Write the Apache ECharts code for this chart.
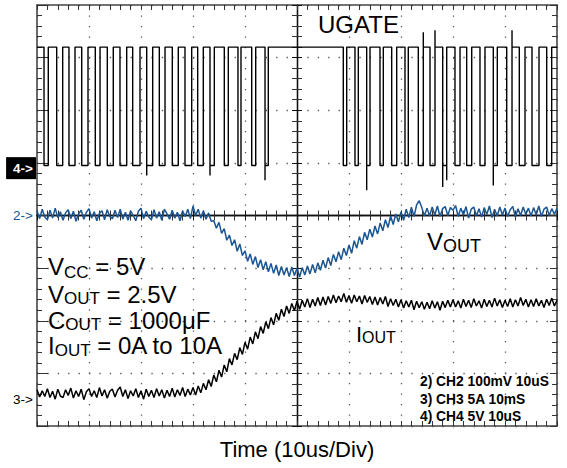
<!DOCTYPE html>
<html><head><meta charset="utf-8">
<script src="https://cdn.jsdelivr.net/npm/echarts@6/dist/echarts.min.js"></script>
<style>
html,body{margin:0;padding:0;background:#fff}
#wrap{position:relative;width:567px;height:468px}
#bg,#fg{position:absolute;left:0;top:0;width:567px;height:468px}
</style>
</head><body><div id="wrap"><div id="bg"></div><div id="fg"></div></div>
<script>
// ---- data (time in us, 10 us/div; amplitude in screen divisions) ----
const timeRangeUs = [-50, 50];
const ampRangeDiv = [-4, 4];
const sampleStartUs = -50;
const sampleStepUs = 0.5;

// CH2 VOUT trace (blue)
const voutDiv = [
 0.09,-0.06,0.12,-0.03,-0.08,0.1,-0.05,0.14,-0.04,0.07,
 -0.09,0.05,0.11,-0.06,0.08,-0.11,0.03,0.1,-0.07,0.06,
 0.13,-0.05,0.07,-0.1,0.04,0.09,-0.08,0.11,-0.02,-0.06,
 0.1,-0.04,0.12,-0.07,0.06,-0.09,0.09,0.0,-0.1,0.08,
 0.14,-0.06,0.08,-0.03,-0.08,0.11,-0.05,0.07,-0.09,0.12,
 0.03,-0.07,0.1,-0.05,0.06,-0.1,0.09,-0.02,0.12,-0.06,
 0.18,0.0,0.12,-0.05,0.09,-0.07,0.05,-0.11,-0.1,-0.24,
 -0.13,-0.34,-0.25,-0.47,-0.37,-0.57,-0.46,-0.68,-0.54,-0.76,
 -0.67,-0.87,-0.73,-0.93,-0.78,-0.99,-0.84,-1.03,-0.88,-1.07,
 -0.91,-1.1,-0.94,-1.14,-0.97,-1.13,-0.99,-1.16,-0.98,-1.14,
 -1.0,-1.17,-0.99,-1.13,-0.96,-1.11,-0.93,-1.09,-0.9,-1.04,
 -0.85,-1.0,-0.8,-0.95,-0.74,-0.88,-0.69,-0.84,-0.62,-0.76,
 -0.56,-0.72,-0.48,-0.62,-0.4,-0.55,-0.32,-0.46,-0.26,-0.41,
 -0.2,-0.35,-0.14,-0.29,-0.08,-0.23,-0.01,-0.17,0.03,-0.12,
 0.07,-0.09,0.12,-0.04,0.16,-0.02,0.2,0.28,0.15,-0.01,
 0.14,-0.01,0.16,0.01,0.18,-0.02,0.13,0.17,0.0,0.15,
 0.1,0.19,-0.02,0.14,0.01,0.17,-0.05,0.12,0.16,-0.01,
 0.13,-0.03,0.15,0.02,0.18,-0.04,0.12,-0.01,0.16,0.01,
 0.14,-0.02,0.11,0.17,-0.03,0.13,0.0,0.16,0.02,0.14,
 -0.01,0.15,0.01,0.18,-0.02,0.12,0.16,0.0,0.13,0.02,0.14
];

// CH3 IOUT trace (black)
const ioutDiv = [
 -3.31,-3.45,-3.33,-3.44,-3.29,-3.46,-3.34,-3.49,-3.3,-3.43,
 -3.46,-3.31,-3.42,-3.28,-3.47,-3.33,-3.44,-3.3,-3.5,-3.35,
 -3.29,-3.44,-3.33,-3.46,-3.27,-3.43,-3.31,-3.47,-3.34,-3.3,
 -3.45,-3.32,-3.26,-3.44,-3.31,-3.48,-3.33,-3.43,-3.29,-3.46,
 -3.33,-3.49,-3.3,-3.44,-3.32,-3.46,-3.29,-3.43,-3.31,-3.47,
 -3.32,-3.44,-3.28,-3.45,-3.31,-3.42,-3.27,-3.44,-3.3,-3.41,
 -3.27,-3.41,-3.24,-3.37,-3.19,-3.31,-3.12,-3.25,-3.03,-3.16,
 -2.94,-3.07,-2.84,-2.97,-2.72,-2.84,-2.62,-2.74,-2.51,-2.64,
 -2.41,-2.54,-2.31,-2.44,-2.21,-2.34,-2.11,-2.24,-2.02,-2.15,
 -1.94,-2.08,-1.86,-1.99,-1.78,-1.92,-1.72,-1.86,-1.67,-1.81,
 -1.63,-1.78,-1.61,-1.74,-1.58,-1.75,-1.59,-1.72,-1.56,-1.71,
 -1.55,-1.7,-1.54,-1.67,-1.51,-1.66,-1.53,-1.64,-1.48,-1.65,
 -1.52,-1.67,-1.51,-1.64,-1.53,-1.68,-1.52,-1.65,-1.54,-1.69,
 -1.55,-1.7,-1.56,-1.68,-1.54,-1.73,-1.58,-1.71,-1.59,-1.74,
 -1.6,-1.76,-1.62,-1.74,-1.61,-1.79,-1.63,-1.75,-1.64,-1.78,
 -1.65,-1.77,-1.62,-1.76,-1.64,-1.8,-1.63,-1.75,-1.61,-1.74,
 -1.6,-1.74,-1.62,-1.76,-1.59,-1.73,-1.61,-1.75,-1.58,-1.72,
 -1.62,-1.76,-1.59,-1.73,-1.61,-1.74,-1.57,-1.72,-1.6,-1.75,
 -1.61,-1.73,-1.58,-1.74,-1.6,-1.72,-1.56,-1.71,-1.59,-1.74,
 -1.6,-1.73,-1.58,-1.72,-1.61,-1.75,-1.59,-1.71,-1.57,-1.72,-1.61
];

// CH4 UGATE: logic levels and the [fall, rise] times of each low interval
const ugateHighDiv = 3.2;
const ugateLowDiv = 0.95;
const ugateLowIntervalsUs = [
 [-48.65,-47.83],[-46.21,-45.06],[-43.85,-42.69],[-41.4,-40.19],[-38.79,-37.88],
 [-36.48,-35.33],[-34.04,-32.75],[-31.6,-30.19],[-28.9,-27.75],[-26.48,-25.38],
 [-23.98,-22.83],[-21.54,-20.25],[-19.1,-18.02],[-16.73,-15.9],[-13.98,-13.21],
 [-11.35,-10.77],[-8.71,-7.94],[-6.15,-5.52],
 [8.9,9.56],[11.15,11.79],[13.4,14.04],[15.96,16.6],[18.21,19.17],[20.77,21.4],
 [23.33,24.29],[25.58,26.54],[28.02,28.79],[30.38,31.35],[32.63,33.6],[35.19,36.15],
 [37.75,38.52],[40.33,41.35],[42.75,43.85],[45.19,46.54],[48.02,48.98]
];
// overshoot spikes on switching edges [edge time, peak]
const ugateSpikes = [
 [-28.9,0.76],[-16.73,0.76],[-6.15,0.67],[13.4,0.48],[24.29,3.48],
 [26.54,3.52],[28.02,0.54],[28.79,0.67],[37.75,0.57],[41.35,3.52]
];

// channel reference markers
const markerLabels = ['4->', '2->', '3->'];
const markerLevelsDiv = [0.9, 0, -3.5];

// annotation texts
const legendLines = ['2) CH2 100mV 10uS', '3) CH3 5A 10mS', '4) CH4 5V 10uS'];
const xAxisTitle = 'Time (10us/Div)';

// ---- build ----
const FONT = '"Liberation Sans", Arial, Helvetica, sans-serif';
const BLUE = '#1b5592';
const GRID = {left: 37, top: 5, width: 520, height: 421};
const toSeries = arr => arr.map((v, i) => [sampleStartUs + i * sampleStepUs, v]);

const spikeAt = {};
ugateSpikes.forEach(([t, v]) => { spikeAt[t] = v; });
const ugatePts = [[timeRangeUs[0], ugateHighDiv]];
ugateLowIntervalsUs.forEach(([a, b]) => {
  ugatePts.push([a, ugateHighDiv]);
  if (spikeAt[a] !== undefined) ugatePts.push([a, spikeAt[a]]);
  ugatePts.push([a, ugateLowDiv], [b, ugateLowDiv]);
  if (spikeAt[b] !== undefined) ugatePts.push([b, spikeAt[b]]);
  ugatePts.push([b, ugateHighDiv]);
});
ugatePts.push([timeRangeUs[1], ugateHighDiv]);

// ===== layer 1: graticule (frame, ticks, dotted grid, centre cross) =====
const tickColor = '#333';
function xAx(position, o) {
  return Object.assign({
    type: 'value', min: timeRangeUs[0], max: timeRangeUs[1], interval: 10, position,
    axisLine: {onZero: false, lineStyle: {color: '#444', width: 1.6}},
    axisTick: {show: true, inside: true, length: 5, lineStyle: {color: tickColor, width: 1}},
    minorTick: {show: true, splitNumber: 5, length: 5, lineStyle: {color: tickColor, width: 1}},
    axisLabel: {show: false}, splitLine: {show: false}, minorSplitLine: {show: false}
  }, o || {});
}
function yAx(position, o) {
  return Object.assign({
    type: 'value', min: ampRangeDiv[0], max: ampRangeDiv[1], interval: 1, position,
    axisLine: {onZero: false, lineStyle: {color: '#444', width: 1.6}},
    axisTick: {show: true, inside: true, length: 5, lineStyle: {color: tickColor, width: 1}},
    minorTick: {show: true, splitNumber: 5, length: 5, lineStyle: {color: tickColor, width: 1}},
    axisLabel: {show: false}, splitLine: {show: false}, minorSplitLine: {show: false}
  }, o || {});
}
const centerLine = {onZero: true, onZeroAxisIndex: 0, lineStyle: {color: '#111', width: 1.3}};

const bg = echarts.init(document.getElementById('bg'), null, {renderer: 'svg'});
bg.setOption({
  animation: false,
  grid: GRID,
  xAxis: [
    xAx('bottom', {splitLine: {show: true, lineStyle: {color: '#555', width: 1.3, type: [1.3, 9.2]}}}),
    xAx('top'),
    xAx('bottom', {axisLine: centerLine, axisTick: {show: true, inside: true, length: 5, lineStyle: {color: '#111'}}}),
    xAx('bottom', {axisLine: centerLine, axisTick: {show: true, inside: false, length: 5, lineStyle: {color: '#111'}}})
  ],
  yAxis: [
    yAx('left', {axisTick: {show: true, inside: true, length: 11, lineStyle: {color: tickColor}},
      splitLine: {show: true, lineStyle: {color: '#555', width: 1.3, type: [1.3, 9.1]}}}),
    yAx('right', {axisTick: {show: true, inside: true, length: 7, lineStyle: {color: tickColor}}}),
    yAx('left', {axisLine: centerLine, axisTick: {show: true, inside: true, length: 5, lineStyle: {color: '#111'}}}),
    yAx('left', {axisLine: centerLine, axisTick: {show: true, inside: false, length: 5, lineStyle: {color: '#111'}}})
  ],
  series: [{type: 'line', data: [[-50, 0], [50, 1]], xAxisIndex: 0, yAxisIndex: 0,
    lineStyle: {opacity: 0}, itemStyle: {opacity: 0}, silent: true}]
});
try {
  for (let i = 0; i < 4; i++) {
    bg.getModel().getComponent('xAxis', i).axis.getTicksCoords();
    bg.getModel().getComponent('yAxis', i).axis.getTicksCoords();
  }
} catch (e) {}
bg.setOption({graphic: [{type: 'text', x: 0, y: 0, style: {text: '', fontSize: 1}}]});

// ===== layer 2: traces and texts =====
const MID = 0.3465; // alphabetic baseline below the line centre (fraction of font size)
function tPlain(x, baseline, text, size, weight, align) {
  const o = {text, left: x, top: baseline - size * (0.5 + MID), padding: 0,
    textStyle: {fontFamily: FONT, fontSize: size, fontWeight: weight || 'normal', color: '#000', lineHeight: size}};
  if (align) o.textAlign = align;
  return o;
}
function tSub(x, baseline, main, sub, rest, M, S, drop) {
  const pad = (M / 2 + MID * M + drop) - (S / 2 + MID * S);
  const txt = `{m|${main}}{s|${sub}}` + (rest ? `{m|${rest}}` : '');
  return {text: txt, left: x, top: baseline - (M / 2 + MID * M), padding: 0,
    textStyle: {fontWeight: 'normal', rich: {
      m: {fontFamily: FONT, fontSize: M, lineHeight: M, fontWeight: 'normal', color: '#000', verticalAlign: 'top'},
      s: {fontFamily: FONT, fontSize: S, lineHeight: S, fontWeight: 'normal', color: '#000', verticalAlign: 'top', padding: [pad, 0, 0, 0]}
    }}};
}
const legendBase = [386.7, 404.5, 421.5];
const titles = [
  tPlain(318, 33, 'UGATE', 24),
  tSub(427, 250, 'V', 'OUT', '', 24, 18, 2),
  tSub(48, 275, 'V', 'CC', ' = 5V', 24, 17, 3),
  tSub(48, 302.5, 'V', 'OUT', ' = 2.5V', 24, 17, 2),
  tSub(48, 328.5, 'C', 'OUT', ' = 1000\u03bcF', 24, 17, 2),
  tSub(48, 354, 'I', 'OUT', ' = 0A to 10A', 24, 17, 2.5),
  tSub(356, 342, 'I', 'OUT', '', 22, 16, 1.5),
  tPlain(297, 457, xAxisTitle, 22, 'normal', 'center')
].concat(legendLines.map((t, i) => tPlain(420, legendBase[i], t, 13.8, 'bold')));

const markerStyles = [
  {color: '#fff', backgroundColor: '#000', fontWeight: 'bold', padding: [4, 3, 4, 7], distance: 1},
  {color: BLUE, distance: 4},
  {color: '#000', distance: 4}
];

const fg = echarts.init(document.getElementById('fg'), null, {renderer: 'svg'});
fg.setOption({
  animation: false,
  backgroundColor: 'transparent',
  title: titles,
  grid: GRID,
  xAxis: {type: 'value', min: timeRangeUs[0], max: timeRangeUs[1], interval: 10, show: false},
  yAxis: {type: 'value', min: ampRangeDiv[0], max: ampRangeDiv[1], interval: 1, show: false},
  series: [
    {name: 'UGATE', type: 'line', data: ugatePts, showSymbol: false, lineStyle: {color: '#000', width: 1.4}},
    {name: 'VOUT', type: 'line', data: toSeries(voutDiv), showSymbol: false, lineStyle: {color: BLUE, width: 1.5}},
    {name: 'IOUT', type: 'line', data: toSeries(ioutDiv), showSymbol: false, lineStyle: {color: '#000', width: 1.5}},
    {name: 'markers', type: 'scatter', symbolSize: 0, silent: true, clip: false, z: 10,
      itemStyle: {opacity: 1},
      data: markerLevelsDiv.map((v, i) => ({value: [timeRangeUs[0], v], name: markerLabels[i], label: markerStyles[i]})),
      label: {show: true, position: 'left', formatter: '{b}', fontFamily: FONT, fontSize: 13.5, opacity: 1}}
  ]
});
</script></body></html>
